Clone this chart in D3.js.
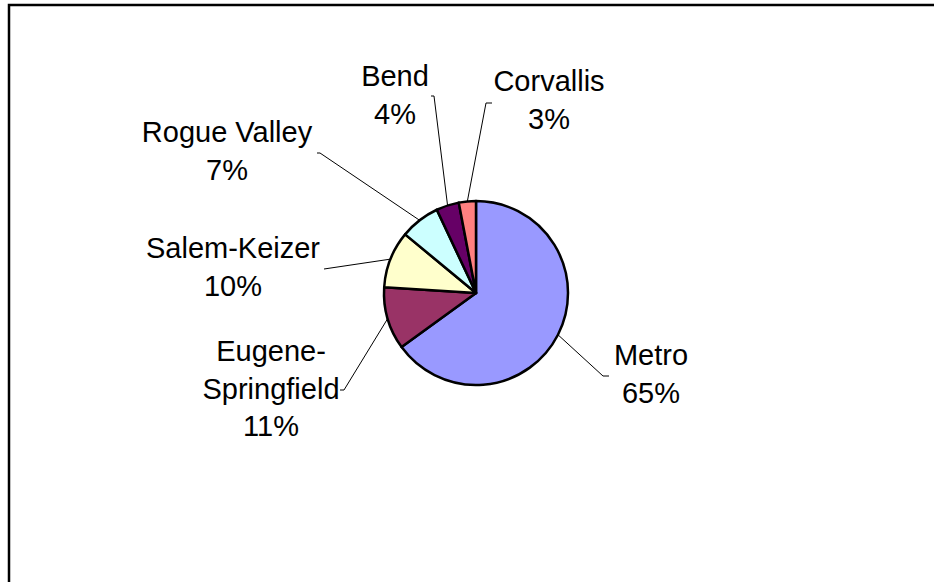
<!DOCTYPE html>
<html>
<head>
<meta charset="utf-8">
<script src="https://cdn.jsdelivr.net/npm/d3@7"></script>
<style>
  html, body { margin: 0; padding: 0; background: #fff; }
  svg { display: block; }
  text { font-family: "Liberation Sans", Arial, sans-serif; }
</style>
</head>
<body>
<svg id="chart" width="934" height="582"></svg>
<script>
// Regional share of the total, drawn clockwise from 12 o'clock
const regions = ["Metro", "Eugene-Springfield", "Salem-Keizer", "Rogue Valley", "Bend", "Corvallis"];
const shares = [65, 11, 10, 7, 4, 3];
const sliceColors = ["#9999FF", "#993366", "#FFFFCC", "#CCFFFF", "#660066", "#FF8080"];
// How each region name wraps onto lines in its label
const labelLines = [["Metro"], ["Eugene-", "Springfield"], ["Salem-Keizer"], ["Rogue Valley"], ["Bend"], ["Corvallis"]];

// Layout: pie placement and where each label block sits
const cx = 476, cy = 293, radius = 92;
const lineHeight = 37.5;
const labelLayout = [
  { x: 651, y: 365, anchor: [[603, 376], [609, 376]] },
  { x: 271, y: 361, anchor: [[344, 390], [340, 390]] },
  { x: 233, y: 258, anchor: [[324, 269]] },
  { x: 227, y: 142, anchor: [[320, 153], [317, 153]] },
  { x: 395, y: 86,  anchor: [[434, 96], [431, 96]] },
  { x: 549, y: 91,  anchor: [[486, 103], [492, 103]] }
];

const data = regions.map((name, i) => ({ name, value: shares[i], color: sliceColors[i], lines: labelLines[i], layout: labelLayout[i] }));

const svg = d3.select("#chart");

// Chart area frame
svg.append("rect")
  .attr("x", 9).attr("y", 5)
  .attr("width", 960).attr("height", 620)
  .attr("fill", "#fff")
  .attr("stroke", "#000")
  .attr("stroke-width", 2.5);

const pie = d3.pie().value(d => d.value).sort(null);
const arc = d3.arc().innerRadius(0).outerRadius(radius);
const rimArc = d3.arc().innerRadius(radius).outerRadius(radius);

const arcs = pie(data);
const g = svg.append("g").attr("transform", `translate(${cx},${cy})`);

g.selectAll("path.slice")
  .data(arcs)
  .join("path")
  .attr("class", "slice")
  .attr("d", arc)
  .attr("fill", d => d.data.color)
  .attr("stroke", "#000")
  .attr("stroke-width", 2.5)
  .attr("stroke-linejoin", "round");

// Leader lines from the slice rim to each label
const line = d3.line();
svg.selectAll("path.leader")
  .data(arcs)
  .join("path")
  .attr("class", "leader")
  .attr("d", d => {
    const [px, py] = rimArc.centroid(d);
    return line([[cx + px, cy + py], ...d.data.layout.anchor]);
  })
  .attr("fill", "none")
  .attr("stroke", "#000")
  .attr("stroke-width", 1);

// Labels: region name lines, then the percentage
const labels = svg.selectAll("text.label")
  .data(arcs)
  .join("text")
  .attr("class", "label")
  .attr("text-anchor", "middle")
  .attr("font-size", 29)
  .attr("fill", "#000");

labels.each(function (d) {
  const t = d3.select(this);
  const rows = [...d.data.lines, `${d.data.value}%`];
  rows.forEach((row, i) => {
    t.append("tspan")
      .attr("x", d.data.layout.x)
      .attr("y", d.data.layout.y + i * lineHeight)
      .text(row);
  });
});
</script>
</body>
</html>
